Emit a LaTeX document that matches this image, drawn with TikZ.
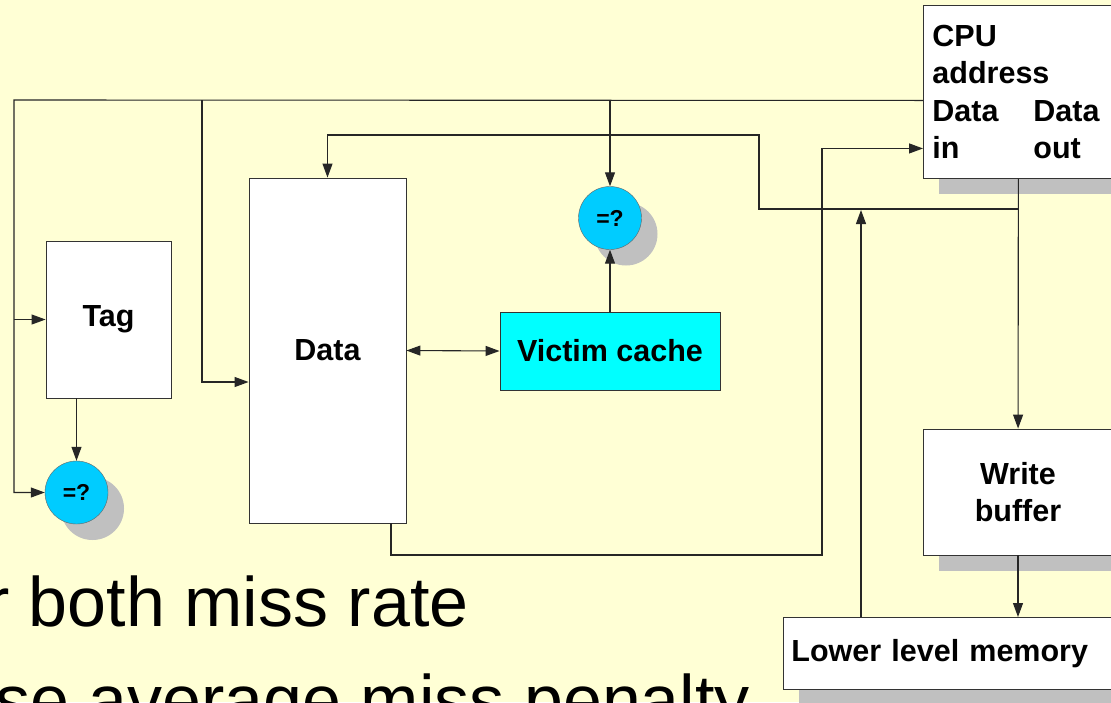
\documentclass[tikz,border=0pt]{standalone}
\usepackage{fontspec}
\setmainfont{Liberation Sans}
\usetikzlibrary{arrows.meta,shadows}
\definecolor{slidebg}{RGB}{255,255,213}
\definecolor{shade}{RGB}{192,192,192}
\definecolor{cmpblue}{RGB}{0,204,255}
\definecolor{victimcyan}{RGB}{0,255,255}

\begin{document}
\begin{tikzpicture}[x=1pt,y=-1pt,
    box/.style={draw=black!80,fill=white,line width=0.9pt,inner sep=0pt,
      font=\fontsize{30.5}{37.5}\selectfont\bfseries,align=center},
    shade box/.style={box,drop shadow={shadow xshift=16pt,shadow yshift=-16pt,fill=shade,opacity=1}},
    cmp/.style={circle,draw=black!60,fill=cmpblue,minimum size=63pt,inner sep=0pt,
      font=\fontsize{23}{26}\selectfont\bfseries,
      drop shadow={shadow xshift=16pt,shadow yshift=-16pt,fill=shade,opacity=1}},
    wire/.style={line width=1.1pt,draw=black!85},
    arr/.style={wire,-{Triangle[length=14pt,width=10pt]}},
    darr/.style={wire,{Triangle[length=14pt,width=10pt]}-{Triangle[length=14pt,width=10pt]}},
    slide/.style={inner sep=0pt,anchor=base west,font=\fontsize{70}{84}\selectfont}]
      \useasboundingbox (0,0) rectangle (1111,702);
      \clip (0,0) rectangle (1111,702);
      \fill[slidebg] (0,0) rectangle (1111,702);

      % slide text behind the figure
      \node[slide] (rate) at (-14,626) {r both miss rate};
      \node[slide] (penalty) at (-5,724) {se average miss penalty};

      \node[box,minimum width=125pt,minimum height=157pt] (tag) at (108.5,319.5) {Tag};
      \node[box,minimum width=157pt,minimum height=345pt] (data) at (327.5,350.5) {Data};
      \node[box,fill=victimcyan,minimum width=220pt,minimum height=78pt] (victim) at (610,351) {Victim cache};
      \node[cmp] (cmpA) at (610,218) {=?};
      \node[cmp] (cmpB) at (76.5,492.5) {=?};
      \node[shade box,anchor=north west,minimum height=173pt,text width=172pt,inner xsep=9pt,align=left] (cpu) at (923,5)
        {CPU\\address\\\makebox[101pt][l]{Data}Data\\\makebox[101pt][l]{in}out};
      \node[shade box,minimum width=190pt,minimum height=126pt] (wbuf) at (1018,492) {Write\\buffer};
      \node[shade box,anchor=north west,minimum height=72pt,text width=330pt,inner xsep=8pt,align=left] (llm) at (783,617) {Lower level memory};

      \coordinate (addr) at ([yshift=-8.5pt]cpu.west);
      \coordinate (lbus) at (14,100);
      \coordinate (dbus) at (202,100);
      \coordinate (din) at ([yshift=-56.5pt]cpu.west);
      \coordinate (dout) at (1018,209);
      \coordinate (refill) at (861,210);

      % address bus
      \draw[arr] (addr) -- (lbus) |- (cmpB.west);
      \draw[arr] (lbus |- tag.west) -- (tag.west);
      \draw[arr] (dbus) |- ([yshift=-31.5pt]data.west);
      \draw[arr] (cmpA.north |- addr) -- (cmpA.north);
      \path (victim) edge [arr] (cmpA);
      \draw[arr] (tag.south -| cmpB.north) -- (cmpB.north);
      \draw[darr] (data.east) -- (victim.west);
      % data paths
      \path (cpu) edge [arr] (wbuf);
      \draw[arr] (dout) -| (759,135) -| (data.north);
      \draw[arr] (wbuf.south) -- (wbuf.south |- llm.north);
      \draw[arr] (refill |- llm.north) -- (refill);
      \draw[arr] ([xshift=63.5pt]data.south) |- (822,555) |- (din);
    \end{tikzpicture}
\end{document}
